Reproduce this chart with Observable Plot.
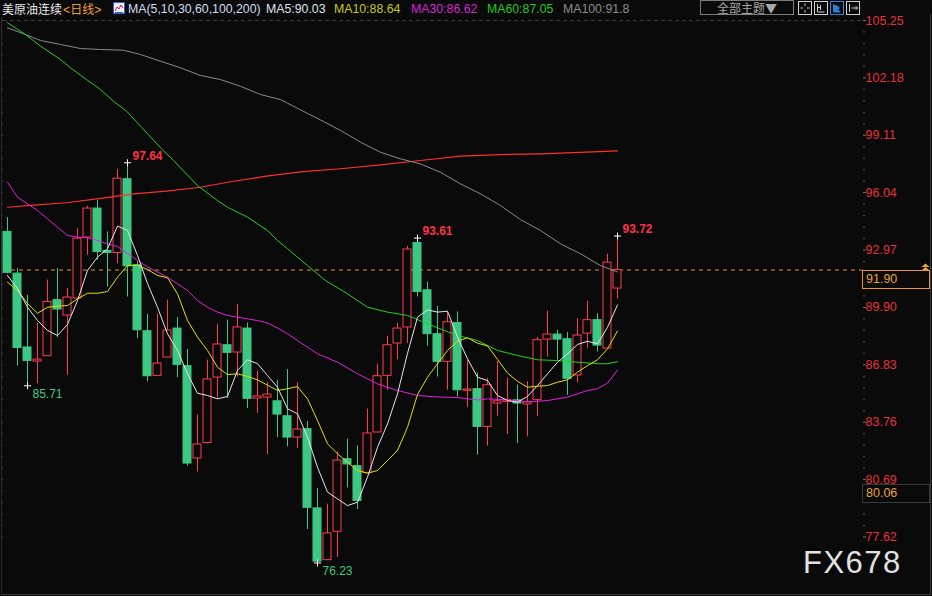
<!DOCTYPE html>
<html><head><meta charset="utf-8">
<script src="https://cdn.jsdelivr.net/npm/d3@7"></script>
<script src="https://cdn.jsdelivr.net/npm/@observablehq/plot@0.6"></script>
<style>
html,body{margin:0;padding:0;background:#0a0a0a;}
#wrap{position:relative;width:932px;height:596px;overflow:hidden;background:#0a0a0a;font-family:"Liberation Sans",Arial,sans-serif;}
#hdr{position:relative;height:17px;}
#hdr .t{position:absolute;top:1px;font-size:12.3px;line-height:17px;white-space:nowrap;}
#hdr .cjk{font-family:"Noto Sans CJK SC",sans-serif;font-size:12px;}
#chart svg{display:block;}
.ov{position:absolute;}
</style></head>
<body>
<div id="wrap">
  <div id="hdr">
    <span class="t cjk" style="left:2px;color:#e8e8e8;top:0px">美原油连续</span>
    <span class="t" style="left:63px;color:#f0a030;top:0px">&lt;<span class="cjk">日线</span>&gt;</span>
    <svg class="ov" style="left:113px;top:2px" width="12" height="12"><rect x="0.5" y="0.5" width="11" height="11" fill="#eef0ff" stroke="#3a5cc8"/><polyline points="2,9 4,5 6,7 8,3 10,6" fill="none" stroke="#e02020"/><line x1="2" y1="10.5" x2="10" y2="10.5" stroke="#3a5cc8"/></svg>
    <span class="t" id="maTitle" style="left:128px;color:#cfdcf0"></span>
    <span class="t" id="ma5t" style="left:266px;color:#dce6f0"></span>
    <span class="t" id="ma10t" style="left:334px;color:#c8c814"></span>
    <span class="t" id="ma30t" style="left:411px;color:#d824d8"></span>
    <span class="t" id="ma60t" style="left:487px;color:#22c822"></span>
    <span class="t" id="ma100t" style="left:563px;color:#8c8c8c"></span>
    <div class="ov cjk" style="left:700px;top:0px;width:92px;height:13px;border:1px solid #7c7c7c;color:#a8a8a8;font-family:'Noto Sans CJK SC',sans-serif;font-size:12px;line-height:13px;text-align:center;">全部主题▼</div>
    <svg class="ov" style="left:798px;top:1px" width="63" height="14">
      <rect x="0.5" y="0.5" width="13" height="13" fill="none" stroke="#d0d0d0"/>
      <path d="M7 2.5V5M7 9v2.5M2.5 7H5M9 7h2.5" stroke="#d0d0d0"/>
      <rect x="16.5" y="0.5" width="13" height="13" fill="none" stroke="#d0d0d0"/>
      <path d="M19.5 3v8h7M22.5 4v5M19.5 6.5h3" stroke="#d0d0d0" fill="none"/>
      <rect x="32.5" y="0.5" width="13" height="13" fill="none" stroke="#2a82d8"/>
      <path d="M35.5 3v8h7M37.5 4v6l4-3z" stroke="#2a82d8" fill="#2a82d8"/>
      <rect x="48.5" y="0.5" width="13" height="13" fill="none" stroke="#d0d0d0"/>
      <path d="M51.5 3v8M53.5 7h6M57.5 5l2 2-2 2" stroke="#d0d0d0" fill="none"/>
    </svg>
  </div>
  <div id="chart"></div>
</div>
<script>
// ---- tick labels (right axis) ----
const yTicks = [105.25, 102.18, 99.11, 96.04, 92.97, 89.90, 86.83, 83.76, 80.69, 77.62];
const lastPrice = 91.90;
const boxPrice = 80.06;

// ---- header MA values ----
const maNames = ["MA5", "MA10", "MA30", "MA60", "MA100"];
const maHeader = ["90.03", "88.64", "86.62", "87.05", "91.8"];
const maPeriods = "MA(5,10,30,60,100,200)";

// ---- daily candles (index 0..61) ----
const opens  = [93.94,91.71,87.76,87.01,87.29,90.29,89.47,90.38,93.64,95.19,92.92,92.81,96.76,92.16,88.63,86.24,87.22,88.77,86.76,81.82,82.65,86.15,87.88,87.49,88.77,85.03,85.08,84.88,84.08,82.94,83.39,79.15,76.38,77.90,81.78,81.41,81.05,83.21,86.24,87.97,88.83,93.35,90.82,88.47,86.99,89.07,85.44,85.53,83.51,84.76,84.85,84.93,84.71,84.94,88.18,88.45,88.20,86.26,88.50,89.22,87.70,90.91];
const highs  = [94.71,91.98,90.55,89.04,91.36,91.98,90.91,94.12,95.31,95.63,93.94,97.27,97.64,92.33,89.54,89.54,90.29,89.36,87.65,84.14,87.08,89.00,89.22,90.07,89.07,86.49,85.90,86.01,86.58,85.88,83.81,80.22,79.38,82.17,82.85,82.49,84.46,86.86,88.36,89.05,93.17,93.61,91.26,89.96,89.66,89.66,87.08,86.40,86.10,87.02,86.12,85.74,85.93,88.29,89.70,88.68,88.56,89.31,90.23,89.57,92.75,93.72];
const lows   = [91.70,86.77,85.71,85.83,87.29,88.29,86.27,90.38,92.69,92.42,91.00,92.25,90.46,88.24,85.92,86.24,87.22,86.15,81.41,81.10,82.60,85.03,85.03,86.18,84.49,84.23,82.03,82.94,82.44,82.36,78.02,76.23,76.38,76.53,80.25,79.09,81.05,83.21,85.47,87.10,87.97,90.46,87.83,86.18,85.47,85.11,84.55,82.00,82.48,84.08,83.10,82.62,82.98,84.08,87.25,87.08,85.20,85.86,87.70,87.52,87.70,90.36];
const closes = [91.75,87.73,87.04,87.11,90.19,89.79,90.43,93.58,95.19,92.87,92.81,96.79,92.10,88.68,86.22,86.90,88.67,86.83,81.55,82.57,86.05,87.92,87.47,88.83,85.01,85.14,85.24,84.17,82.94,83.37,79.18,76.30,77.81,81.71,81.50,79.55,83.16,86.22,87.88,88.77,93.00,90.73,88.47,86.99,89.11,85.47,85.51,83.51,85.74,84.88,84.93,84.76,84.83,88.15,88.45,88.18,86.08,88.40,89.22,87.86,92.30,91.90];

// ---- moving average lines ----
const ma5 = [91.61,90.91,89.91,89.20,88.67,88.40,88.99,90.27,91.88,92.59,93.04,94.25,94.02,92.68,91.18,89.91,88.49,87.60,86.35,85.31,85.19,85.01,85.14,86.53,87.10,86.89,86.26,85.63,84.48,84.21,82.96,81.35,80.02,79.66,79.30,79.48,80.82,82.42,83.67,85.28,87.44,89.38,89.77,89.65,89.70,88.31,87.15,86.17,85.99,85.19,84.92,84.83,85.14,85.72,86.35,86.97,87.42,87.92,88.09,87.95,88.84,90.03];
const ma10 = [91.25,90.81,90.11,89.59,89.91,89.97,90.00,90.36,90.66,90.66,90.75,91.52,92.14,92.16,91.93,91.61,91.49,90.63,89.20,88.31,87.60,86.70,86.31,86.35,86.21,86.03,85.74,85.46,85.55,85.67,85.01,83.85,82.61,82.07,81.62,81.18,81.03,81.18,81.71,82.25,83.49,85.24,86.17,86.89,87.60,88.09,88.28,87.99,87.84,87.12,86.39,85.95,85.63,85.69,85.72,85.90,86.03,86.44,86.79,87.10,87.69,88.64];
const ma30Idx = [0,1,2,3,4,5,6,7,8,9,10,11,12,13,14,15,16,17,18,19,20,21,22,23,24,25,26,27,28,29,31,33,35,37,39,41,43,45,47,48,50,52,54,56,58,59,60,61];
const ma30Val = [96.60,95.80,95.44,95.09,94.64,94.19,93.75,93.66,93.63,93.48,93.30,93.16,92.79,92.41,92.07,91.79,91.52,91.16,90.81,90.27,89.91,89.65,89.47,89.38,89.29,89.20,89.07,88.80,88.49,88.13,87.42,86.97,86.35,85.81,85.46,85.19,85.11,85.08,84.95,85.01,84.96,84.84,84.92,85.10,85.46,85.55,85.85,86.55];
const ma60Idx = [0,1.8,3.3,5.3,6.3,7.9,9.3,10.6,11.9,13.3,15.3,16.6,17.3,19,21,22,24,25,26,27,28,30,31.8,34,36,38,40,41,43,45,47,49,51,53,55,57,59,60,61];
const ma60Val = [105.13,104.50,103.88,103.16,102.72,102.09,101.56,100.93,100.40,99.60,98.44,97.76,97.37,96.42,95.62,95.26,94.73,94.37,94.02,93.48,93.04,92.14,91.34,90.63,89.91,89.65,89.47,89.25,88.81,88.40,88.13,87.60,87.33,87.10,87.06,86.97,86.89,86.89,87.00];
const ma100Idx = [0,1.8,3.3,5.3,7.3,9.3,11.6,13.3,15.3,17.3,19.3,21.3,23.3,25.3,27.3,29.3,31.3,33.3,35.3,37.3,39.3,41.3,43.3,45.3,47.3,49.3,51.3,53.3,55.3,57.3,59.3,61];
const ma100Val = [104.86,104.50,104.18,103.97,103.75,103.70,103.66,103.43,103.07,102.72,102.31,102.09,101.73,101.29,101.02,100.47,99.93,99.37,98.74,98.20,97.85,97.58,97.13,96.51,95.98,95.35,94.60,94.02,93.30,92.77,92.14,91.80];
const ma200Idx = [0,2.6,5.9,9.3,12.6,15.9,19.3,22.6,25.9,29.3,33.3,37.3,41.3,45.3,49.3,53.3,57.3,61];
const ma200Val = [95.26,95.37,95.50,95.73,95.98,96.12,96.33,96.65,96.92,97.15,97.32,97.53,97.76,97.99,98.08,98.12,98.20,98.28];

// ---- marked extremes ----
const hiIdx = [12, 41, 61];
const hiVal = [97.64, 93.61, 93.72];
const loIdx = [2, 31];
const loVal = [85.71, 76.23];

// ---- colors ----
const UP = "#ff3a4e", DN = "#3cc882", BG = "#0a0a0a";
const C_MA5 = "#e6e6e6", C_MA10 = "#e0e000", C_MA30 = "#e020e0", C_MA60 = "#22d022", C_MA100 = "#8a8a8a", C_MA200 = "#ff2e2e";

// header text
document.getElementById("maTitle").textContent = maPeriods;
["ma5t","ma10t","ma30t","ma60t","ma100t"].forEach((id,k)=>{
  document.getElementById(id).textContent = maNames[k] + ":" + maHeader[k];
});

const candles = opens.map((o, i) => ({i, o, h: highs[i], l: lows[i], c: closes[i], up: closes[i] >= o}));

const minorTicks = [];
for (let k = 0; k < yTicks.length - 1; k++) {
  const a = yTicks[k], b = yTicks[k + 1];
  for (let j = 1; j < 5; j++) minorTicks.push(a + (b - a) * j / 5);
}

const plusSymbol = {
  draw(ctx, size) {
    const r = Math.sqrt(size / Math.PI);
    ctx.moveTo(-r, 0); ctx.lineTo(r, 0);
    ctx.moveTo(0, -r); ctx.lineTo(0, r);
  }
};

const plot = Plot.plot({
  width: 932,
  height: 579,
  marginLeft: 3, marginRight: 70, marginTop: 0, marginBottom: 0,
  style: {background: "transparent", color: "#e8303c", fontFamily: "'Liberation Sans', Arial, sans-serif", fontSize: "12.5px", overflow: "visible"},
  x: {type: "linear", domain: [0, 61], range: [7, 617], axis: null},
  y: {type: "linear", domain: [77.62, 105.25], range: [519.5, 3], axis: null},
  marks: [
    Plot.ruleY([yTicks[0]], {stroke: "#3a3a3a", strokeDasharray: "4,3"}),
    Plot.ruleY([lastPrice], {stroke: "#e8982c", strokeDasharray: "4,4"}),
    Plot.axisY(yTicks, {anchor: "right", tickSize: 3, tickPadding: 0, tickFormat: d => d.toFixed(2), stroke: "#777", fill: "#e8303c", fontSize: 12.5, label: null}),
    Plot.axisY(minorTicks, {anchor: "right", tickSize: 2, tickFormat: () => "", stroke: "#505050", fill: "none", label: null}),
    Plot.axisY(minorTicks.concat(yTicks), {anchor: "left", tickSize: 2, tickFormat: () => "", stroke: "#444", fill: "none", label: null}),
    // wicks
    Plot.ruleX(candles, {x: "i", y1: "l", y2: "h", stroke: d => d.up ? UP : DN, strokeWidth: 1}),
    // bodies
    Plot.rect(candles, {
      x1: d => d.i - 0.4, x2: d => d.i + 0.4,
      y1: d => Math.min(d.o, d.c), y2: d => Math.max(d.o, d.c),
      fill: d => d.up ? BG : DN, stroke: d => d.up ? UP : DN, strokeWidth: 1
    }),
    // moving averages
    Plot.line(ma200Val, {x: ma200Idx, y: ma200Val, stroke: C_MA200, strokeWidth: 1.2}),
    Plot.line(ma100Val, {x: ma100Idx, y: ma100Val, stroke: C_MA100, strokeWidth: 1}),
    Plot.line(ma60Val, {x: ma60Idx, y: ma60Val, stroke: C_MA60, strokeWidth: 1}),
    Plot.line(ma30Val, {x: ma30Idx, y: ma30Val, stroke: C_MA30, strokeWidth: 1}),
    Plot.line(ma10, {x: (d, i) => i, y: d => d, stroke: C_MA10, strokeWidth: 1}),
    Plot.line(ma5, {x: (d, i) => i, y: d => d, stroke: C_MA5, strokeWidth: 1}),
    // extreme markers
    Plot.dot(hiVal, {x: hiIdx, y: hiVal, symbol: plusSymbol, r: 3.5, stroke: "#ffffff", fill: "none", strokeWidth: 1}),
    Plot.dot(loVal, {x: loIdx, y: loVal, symbol: plusSymbol, r: 3.5, stroke: "#ffffff", fill: "none", strokeWidth: 1}),
    Plot.text(hiVal, {x: hiIdx, y: hiVal, text: d => d.toFixed(2), textAnchor: "start", dx: 5, dy: -7, fill: "#ff3045", fontWeight: "bold", fontSize: 12}),
    Plot.text(loVal, {x: loIdx, y: loVal, text: d => d.toFixed(2), textAnchor: "start", dx: 5, dy: 8, fill: DN, fontSize: 12})
  ]
});
document.getElementById("chart").appendChild(plot);

// price boxes on the right axis, positioned through the plot's own y scale
const ys = plot.scale("y");
const wrap = document.getElementById("wrap");
function box(value, topOffset, border, color) {
  const d = document.createElement("div");
  d.className = "ov";
  const top = 17 + ys.apply(value) + topOffset;
  d.style.cssText = `left:862px;top:${top}px;border:1px solid ${border};background:${BG};color:${color};font-size:12.5px;line-height:17px;padding-left:3px;box-sizing:border-box;width:68px;height:19px;`;
  d.textContent = value.toFixed(2);
  wrap.appendChild(d);
  return top;
}
const t1 = box(lastPrice, 0.5, "#e8982c", "#e8a33a");
box(boxPrice, -7, "#3a3a3a", "#e8a33a");
// small double arrow marker at the price box
const arr = document.createElementNS("http://www.w3.org/2000/svg", "svg");
arr.setAttribute("width", "9"); arr.setAttribute("height", "8");
arr.setAttribute("class", "ov");
arr.style.left = "921px"; arr.style.top = (t1 - 7) + "px";
arr.innerHTML = '<path d="M0.5 4L4.5 0.5L8.5 4Z M0.5 7.5L4.5 4L8.5 7.5Z" fill="#f0a030"/>';
wrap.appendChild(arr);

// panel borders
const borders = [
  "left:1px;top:17px;width:1px;height:578px;background:#2e2e2e;",
  "left:930px;top:14px;width:1px;height:581px;background:#3a3a3a;",
  "left:1px;top:594px;width:930px;height:1px;background:#3a3a3a;"
];
borders.forEach(s => { const d = document.createElement("div"); d.className = "ov"; d.style.cssText = s; wrap.appendChild(d); });

// watermark
const wm = document.createElement("div");
wm.className = "ov";
wm.style.cssText = "left:803px;top:545px;height:35px;font-size:31px;line-height:35px;color:#e2e2e2;letter-spacing:1.5px;font-family:'Liberation Sans',Arial,sans-serif;";
wm.textContent = "FX678";
wrap.appendChild(wm);
</script>
</body></html>
